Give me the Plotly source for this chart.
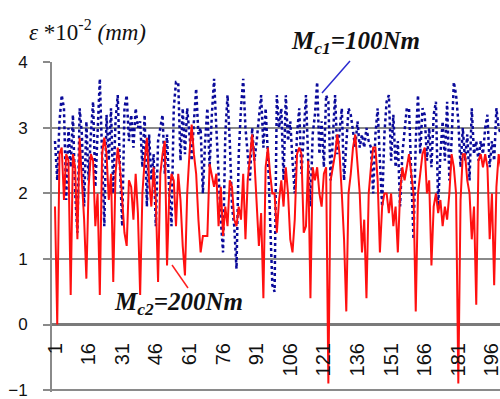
import plotly.graph_objects as go

# Sample index (categories 1..200)
index = list(range(1, 201))

# Mc1 = 100 Nm (blue dotted), values in 1e-2 mm
mc1_100 = [
    2.8, 2.2, 3.1, 3.5, 3.3, 1.9, 3.0, 2.4, 3.2, 2.0,
    1.4, 3.3, 2.9, 1.8, 3.1, 2.2, 2.9, 3.4, 2.1, 3.0,
    3.75, 2.6, 1.5, 3.2, 2.5, 3.3, 2.0, 3.1, 3.5, 2.4,
    1.5, 3.3, 3.5, 2.8, 3.2, 2.7, 3.3, 3.0, 3.1, 2.4,
    3.2, 1.8, 2.9, 2.2, 2.6, 1.5, 2.8, 3.0, 3.2, 2.3,
    2.9, 2.0, 1.5, 3.3, 3.7, 3.7, 2.5, 3.3, 2.6, 3.3,
    2.9, 2.5, 3.1, 3.6, 2.9, 3.0, 2.0, 2.8, 3.3, 2.4,
    3.2, 3.75, 3.0, 2.2, 1.6, 1.1, 2.9, 3.5, 2.8, 1.8,
    1.5, 0.85, 2.6, 3.3, 3.75, 3.0, 2.6, 2.2, 3.0, 2.5,
    2.8, 3.2, 3.5, 2.7, 3.3, 2.6, 1.5, 0.6, 0.5, 3.5,
    3.0, 3.3, 2.2, 3.5, 2.8, 3.1, 2.5, 2.0, 2.9, 3.3,
    2.3, 2.9, 3.5, 2.5, 1.8, 2.9, 3.2, 3.7, 2.6, 3.1,
    2.4, 3.5, 3.4, 2.2, 2.9, 3.5, 2.6, 3.0, 3.3, 2.2,
    2.8, 3.3, 3.2, 2.9, 2.7, 3.1, 2.7, 2.9, 2.7, 3.0,
    2.8, 2.7, 2.0, 2.9, 3.3, 2.5, 1.8, 2.9, 3.4, 3.5,
    2.5, 3.2, 2.4, 2.8, 1.8, 2.6, 2.9, 3.3, 3.3, 2.4,
    1.3, 2.8, 3.5, 2.6, 3.3, 3.2, 2.5, 3.0, 2.4, 3.2,
    3.4, 1.8, 2.6, 3.1, 2.5, 3.4, 2.2, 2.8, 3.7, 3.5,
    3.1, 2.4, 3.0, 2.5, 2.9, 2.2, 3.3, 2.6, 2.8, 2.5,
    2.8, 2.6, 3.0, 3.2, 2.4, 2.8, 2.5, 3.3, 3.0, 2.9,
]

# Mc2 = 200 Nm (red solid)
mc2_200 = [
    1.8, 0.0, 2.6, 2.7, 1.9, 2.6, 2.5, 0.45, 2.6, 2.4,
    1.3, 2.85, 2.2, 1.6, 0.7, 2.1, 2.6, 2.5, 1.5, 2.0,
    0.45, 2.6, 2.85, 2.6, 1.9, 2.3, 0.65, 2.3, 2.7, 2.4,
    1.9, 1.4, 1.2, 2.2, 2.1, 1.6, 2.3, 1.7, 0.45, 2.0,
    2.5, 2.85, 2.2, 1.8, 2.4, 1.9, 0.65, 2.3, 2.6, 2.8,
    0.9, 2.0, 2.3, 2.2, 1.5, 2.3, 1.9, 1.2, 0.75, 2.0,
    2.6, 3.05, 2.6, 2.3, 1.6, 1.1, 1.35, 1.35, 1.35, 2.45,
    2.3, 2.1, 2.3, 1.5, 2.1, 1.35, 1.8, 1.5, 2.2, 2.1,
    1.6, 1.5, 1.8, 1.6, 2.3, 1.3, 2.2, 2.6, 2.9, 2.5,
    1.8, 1.2, 1.7, 0.4, 2.4, 2.7, 2.3, 2.0, 2.0, 1.4,
    1.9, 2.2, 1.8, 2.4, 2.0, 1.3, 1.1, 1.6, 2.6, 2.7,
    2.6, 1.4, 1.5, 2.5, 0.4, 2.4, 2.2, 2.4, 2.0, 1.8,
    2.3, 2.4, -0.9, 2.2, 2.4, 2.6, 2.9, 2.6, 2.0, 1.3,
    0.2, 2.0, 2.3, 2.7, 2.9, 2.5, 2.0, 1.1, 1.6, 0.4,
    2.0, 2.4, 2.7, 2.7, 2.2, 1.1, 1.8, 2.0, 2.0, 1.7,
    2.0, 1.5, 1.8, 1.1, 2.0, 2.4, 2.2, 2.4, 2.6, 2.3,
    2.0, 0.2, 2.0, 2.3, 2.6, 2.7, 2.0, 2.2, 0.9, 1.8,
    2.0, 1.7, 1.9, 1.5, 1.8, 1.6, 2.0, 2.6, 2.4, 2.0,
    -0.9, 1.9, 2.6, 2.6, 2.2, 2.0, 1.3, 1.8, 0.3, 2.5,
    2.6, 2.4, 2.6, 2.4, 1.3, 2.0, 0.6, 2.1, 2.6, 2.4,
]

x_tick_vals = list(range(1, 201, 15))
x_tick_text = [str(v) for v in x_tick_vals]
y_tick_vals = [-1, 0, 1, 2, 3, 4]

W, H = 500, 399
L, R, T, B = 52, 0, 62, 7
PW, PH = W - L - R, H - T - B

def px(xp):
    return (xp - L) / PW

def py(yp):
    return (H - B - yp) / PH

fig = go.Figure()
fig.add_trace(go.Scatter(
    x=index, y=mc1_100, mode="lines", name="Mc1=100Nm",
    line=dict(color="#0a0a9a", width=2.5, dash="dot"),
))
fig.add_trace(go.Scatter(
    x=index, y=mc2_200, mode="lines", name="Mc2=200Nm",
    line=dict(color="#ff1010", width=2),
))

serif = "Liberation Serif, Times New Roman, serif"
sans = "Liberation Sans, Arial, sans-serif"

annotations = [
    dict(text="<i>ε</i> *10<sup>-2</sup> <i>(mm)</i>", xref="paper", yref="paper",
         x=px(27), y=py(31), xanchor="left", yanchor="middle", showarrow=False,
         font=dict(family=serif, size=23, color="#111111")),
    dict(text="<b><i>M<sub>c1</sub>=100Nm</i></b>", xref="paper", yref="paper",
         x=px(355), y=py(42), xanchor="center", yanchor="middle", showarrow=False,
         font=dict(family=serif, size=25, color="#111111")),
    dict(text="<b><i>M<sub>c2</sub>=200Nm</i></b>", xref="paper", yref="paper",
         x=px(178), y=py(303), xanchor="center", yanchor="middle", showarrow=False,
         font=dict(family=serif, size=25, color="#111111")),
]

shapes = [
    dict(type="line", xref="paper", yref="paper",
         x0=px(350), y0=py(61), x1=px(322), y1=py(93),
         line=dict(color="#2a2ad0", width=1.5)),
    dict(type="line", xref="paper", yref="paper",
         x0=px(172), y0=py(265), x1=px(188), y1=py(288),
         line=dict(color="#ff2020", width=1.5)),
    # bottom gridline / frame at the lowest y tick
    dict(type="line", xref="paper", yref="y", x0=px(45), x1=1,
         y0=y_tick_vals[0], y1=y_tick_vals[0], layer="above",
         line=dict(color="#8a8a8a", width=2)),
]

fig.update_layout(
    width=W, height=H,
    margin=dict(l=L, r=R, t=T, b=B, pad=0, autoexpand=False),
    paper_bgcolor="white", plot_bgcolor="white",
    showlegend=False,
    annotations=annotations,
    shapes=shapes,
    xaxis=dict(
        range=[-0.34, 199.6], showgrid=False, zeroline=False,
        anchor="free", position=0.2, automargin=False,
        showline=False,
        tickmode="array", tickvals=x_tick_vals, ticktext=x_tick_text,
        tickangle=-90, ticks="outside", ticklen=8, tickcolor="rgba(0,0,0,0)",
        ticklabeloverflow="allow",
        tickfont=dict(family=sans, size=20, color="#111111"),
    ),
    yaxis=dict(
        range=[-1.03, 4.006], tickmode="array", tickvals=y_tick_vals, automargin=False,
        showgrid=True, gridcolor="#8a8a8a", gridwidth=2,
        zeroline=True, zerolinecolor="#7a7a7a", zerolinewidth=2.5,
        showline=True, linecolor="#8a8a8a", linewidth=2,
        ticks="outside", ticklen=7, tickcolor="#8a8a8a", tickwidth=2,
        ticklabelstandoff=12, ticklabeloverflow="allow",
        tickfont=dict(family=sans, size=17, color="#111111"),
    ),
)

fig.write_html(
    "out.html",
    config={"displayModeBar": False},
    post_script="document.body.style.margin='0';document.body.style.overflow='hidden';",
)
